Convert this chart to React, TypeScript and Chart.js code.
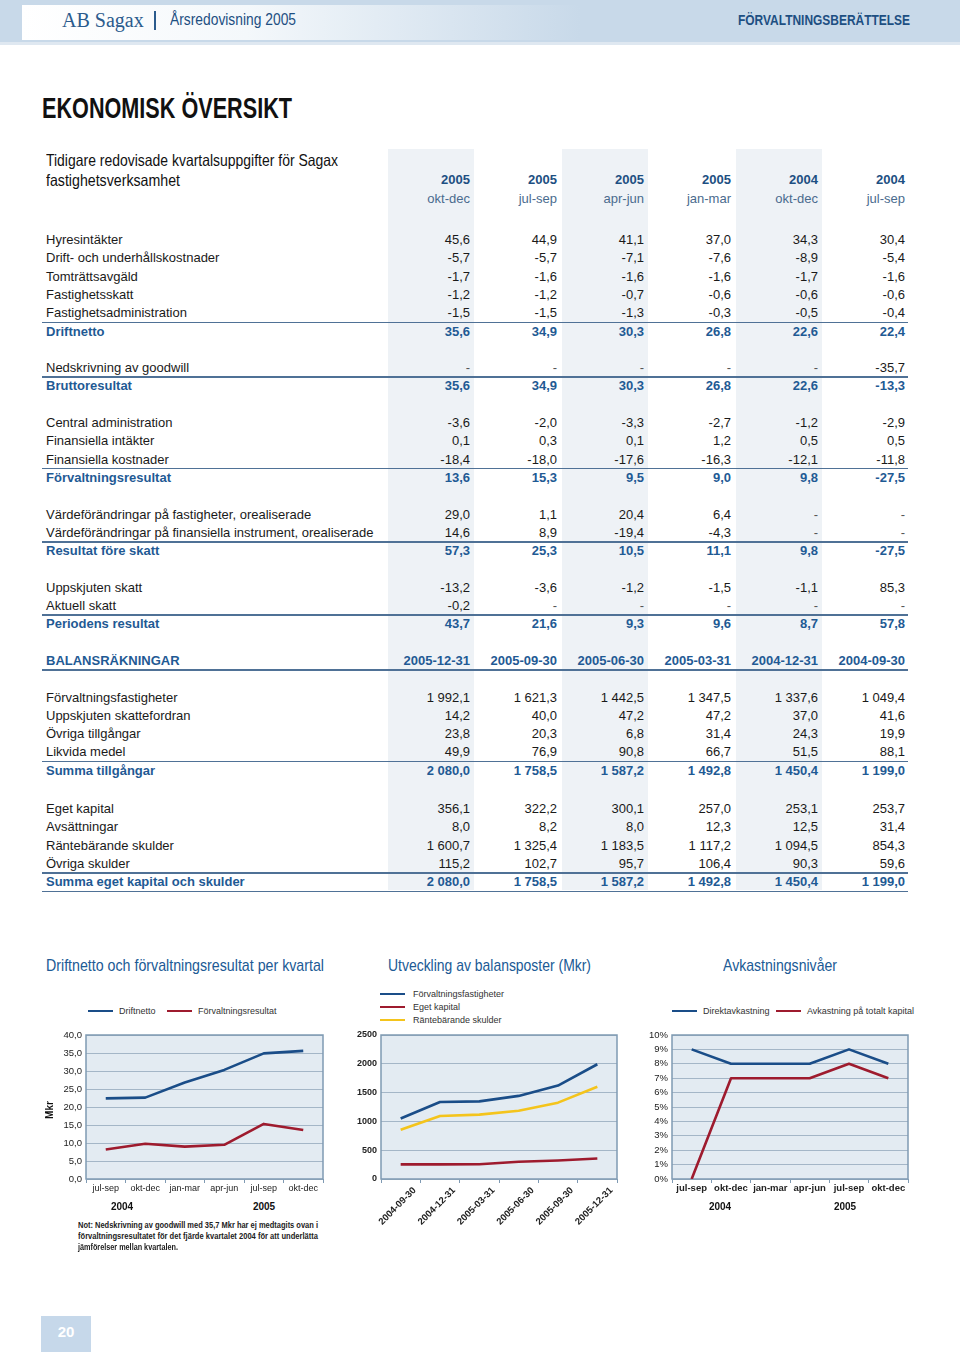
import React, { useEffect, useLayoutEffect, useRef } from "react";
import { Chart, registerables } from "chart.js";
Chart.register(...registerables);

// ---------- Table data ----------
const quarterYears = ["2005", "2005", "2005", "2005", "2004", "2004"];
const quarterNames = ["okt-dec", "jul-sep", "apr-jun", "jan-mar", "okt-dec", "jul-sep"];
const balanceDates = ["2005-12-31", "2005-09-30", "2005-06-30", "2005-03-31", "2004-12-31", "2004-09-30"];

const hyresintakter = ["45,6", "44,9", "41,1", "37,0", "34,3", "30,4"];
const driftUnderhall = ["-5,7", "-5,7", "-7,1", "-7,6", "-8,9", "-5,4"];
const tomtrattsavgald = ["-1,7", "-1,6", "-1,6", "-1,6", "-1,7", "-1,6"];
const fastighetsskatt = ["-1,2", "-1,2", "-0,7", "-0,6", "-0,6", "-0,6"];
const fastighetsadministration = ["-1,5", "-1,5", "-1,3", "-0,3", "-0,5", "-0,4"];
const driftnettoRow = ["35,6", "34,9", "30,3", "26,8", "22,6", "22,4"];
const nedskrivning = ["-", "-", "-", "-", "-", "-35,7"];
const bruttoresultat = ["35,6", "34,9", "30,3", "26,8", "22,6", "-13,3"];
const centralAdmin = ["-3,6", "-2,0", "-3,3", "-2,7", "-1,2", "-2,9"];
const finIntakter = ["0,1", "0,3", "0,1", "1,2", "0,5", "0,5"];
const finKostnader = ["-18,4", "-18,0", "-17,6", "-16,3", "-12,1", "-11,8"];
const forvaltningsresultatRow = ["13,6", "15,3", "9,5", "9,0", "9,8", "-27,5"];
const vardeFastigheter = ["29,0", "1,1", "20,4", "6,4", "-", "-"];
const vardeFinansiella = ["14,6", "8,9", "-19,4", "-4,3", "-", "-"];
const resultatForeSkatt = ["57,3", "25,3", "10,5", "11,1", "9,8", "-27,5"];
const uppskjutenSkatt = ["-13,2", "-3,6", "-1,2", "-1,5", "-1,1", "85,3"];
const aktuellSkatt = ["-0,2", "-", "-", "-", "-", "-"];
const periodensResultat = ["43,7", "21,6", "9,3", "9,6", "8,7", "57,8"];
const forvFastigheter = ["1 992,1", "1 621,3", "1 442,5", "1 347,5", "1 337,6", "1 049,4"];
const uppskjutenFordran = ["14,2", "40,0", "47,2", "47,2", "37,0", "41,6"];
const ovrigaTillgangar = ["23,8", "20,3", "6,8", "31,4", "24,3", "19,9"];
const likvidaMedel = ["49,9", "76,9", "90,8", "66,7", "51,5", "88,1"];
const summaTillgangar = ["2 080,0", "1 758,5", "1 587,2", "1 492,8", "1 450,4", "1 199,0"];
const egetKapitalRow = ["356,1", "322,2", "300,1", "257,0", "253,1", "253,7"];
const avsattningar = ["8,0", "8,2", "8,0", "12,3", "12,5", "31,4"];
const rantebarande = ["1 600,7", "1 325,4", "1 183,5", "1 117,2", "1 094,5", "854,3"];
const ovrigaSkulder = ["115,2", "102,7", "95,7", "106,4", "90,3", "59,6"];
const summaEKSkulder = ["2 080,0", "1 758,5", "1 587,2", "1 492,8", "1 450,4", "1 199,0"];

// ---------- Chart data ----------
const chartQuarters = ["jul-sep", "okt-dec", "jan-mar", "apr-jun", "jul-sep", "okt-dec"];
const driftnetto = [22.4, 22.6, 26.8, 30.3, 34.9, 35.6];
const forvaltningsresultat = [8.2, 9.8, 9.0, 9.5, 15.3, 13.6];

const balanceChartDates = ["2004-09-30", "2004-12-31", "2005-03-31", "2005-06-30", "2005-09-30", "2005-12-31"];
const forvaltningsfastigheter = [1049.4, 1337.6, 1347.5, 1442.5, 1621.3, 1992.1];
const egetKapital = [253.7, 253.1, 257.0, 300.1, 322.2, 356.1];
const rantebarandeSkulder = [854.3, 1094.5, 1117.2, 1183.5, 1325.4, 1600.7];

const direktavkastning = [9, 8, 8, 8, 9, 8];
const avkastningTotalt = [0, 7, 7, 7, 8, 7];

// ---------- Styles ----------
const SANS = '"Liberation Sans", Arial, Helvetica, sans-serif';
const SERIF = '"Liberation Serif", "Times New Roman", serif';
const NAVY = "#1d4f82";
const TITLE_BLUE = "#205a95";
const TOTAL_BLUE = "#1f5a94";
const LINE_BLUE = "#1a4d88";
const LINE_RED = "#9e1b2e";
const LINE_YELLOW = "#f4c41c";
const PLOT_BG = "#e3ebf2";
const GRID = "#a4b6c7";
const FRAME = "#7f9ab3";
const RULE = "#4f7196";

type TProps = { x: number; y: number; lh?: number; align?: "left" | "right" | "center"; style?: React.CSSProperties; children: React.ReactNode };
function T({ x, y, lh = 18, align = "left", style, children }: TProps) {
  return (
    <div
      style={{
        position: "absolute",
        left: x,
        top: y - lh / 2,
        lineHeight: lh + "px",
        height: lh,
        whiteSpace: "nowrap",
        transform: align === "right" ? "translateX(-100%)" : align === "center" ? "translateX(-50%)" : undefined,
        ...style,
      }}
    >
      {children}
    </div>
  );
}

// Condensed text: regular sans scaled horizontally to the width it takes in the print
function FitText({ x, y, w, lh = 20, style, children }: { x: number; y: number; w: number; lh?: number; style?: React.CSSProperties; children: React.ReactNode }) {
  const ref = useRef<HTMLDivElement>(null);
  useLayoutEffect(() => {
    const el = ref.current;
    if (!el) return;
    el.style.transform = "none";
    const nat = el.getBoundingClientRect().width;
    if (nat > 0) el.style.transform = `scaleX(${w / nat})`;
  }, []);
  return (
    <div
      ref={ref}
      style={{ position: "absolute", left: x, top: y - lh / 2, lineHeight: lh + "px", height: lh, whiteSpace: "nowrap", transformOrigin: "0 50%", ...style }}
    >
      {children}
    </div>
  );
}

const plotFrame = {
  id: "plotFrame",
  beforeDraw(chart: any) {
    const { ctx, chartArea: a } = chart;
    ctx.save();
    ctx.fillStyle = PLOT_BG;
    ctx.fillRect(a.left, a.top, a.right - a.left, a.bottom - a.top);
    ctx.restore();
  },
  beforeDatasetsDraw(chart: any) {
    const { ctx, chartArea: a } = chart;
    ctx.save();
    ctx.strokeStyle = FRAME;
    ctx.lineWidth = 1.5;
    ctx.strokeRect(a.left, a.top, a.right - a.left, a.bottom - a.top);
    ctx.restore();
  },
};

type DS = { label: string; data: number[]; color: string };
type LCProps = {
  left: number; top: number; width: number; height: number;
  padTop: number; padRight: number; yWidth: number; xHeight: number;
  labels: string[]; datasets: DS[];
  yMin: number; yMax: number; yStep: number; yFmt: (v: number) => string;
  yFont: any; xFont: any; xRot: number; xLabelOffset?: number; xPad?: number;
};

function LineChart(p: LCProps) {
  const ref = useRef<HTMLCanvasElement>(null);
  useEffect(() => {
    const chart = new Chart(ref.current as HTMLCanvasElement, {
      type: "line",
      data: {
        labels: p.labels,
        datasets: p.datasets.map((d) => ({
          label: d.label,
          data: d.data,
          borderColor: d.color,
          backgroundColor: d.color,
          borderWidth: 2.6,
          pointRadius: 0,
          tension: 0,
          fill: false,
          borderJoinStyle: "round" as const,
        })),
      },
      options: {
        animation: false,
        responsive: false,
        maintainAspectRatio: false,
        devicePixelRatio: 1,
        layout: { padding: { top: p.padTop, right: p.padRight, left: 0, bottom: 0 } },
        plugins: { legend: { display: false }, tooltip: { enabled: false } },
        scales: {
          x: {
            type: "category",
            offset: true,
            grid: { display: true, drawOnChartArea: false, drawTicks: true, tickLength: 4, color: FRAME, offset: true },
            border: { display: false },
            ticks: {
              color: "#222",
              font: p.xFont,
              padding: p.xPad ?? 0,
              maxRotation: p.xRot,
              minRotation: p.xRot,
              autoSkip: false,
              labelOffset: p.xLabelOffset ?? 0,
            },
            afterFit: (s: any) => { s.height = p.xHeight; },
          },
          y: {
            min: p.yMin,
            max: p.yMax,
            grid: { color: GRID, drawTicks: false, lineWidth: 1 },
            border: { display: false },
            ticks: { stepSize: p.yStep, color: "#222", font: p.yFont, padding: 4, callback: (v: any) => p.yFmt(Number(v)) },
            afterFit: (s: any) => { s.width = p.yWidth; },
          },
        },
      } as any,
      plugins: [plotFrame],
    });
    return () => chart.destroy();
  }, []);
  return (
    <canvas
      ref={ref}
      width={p.width}
      height={p.height}
      style={{ position: "absolute", left: p.left, top: p.top, width: p.width, height: p.height }}
    />
  );
}

function Legend({ items, x, y, dx, vertical, textGap = 6 }: { items: DS[]; x: number; y: number; dx?: number[]; vertical?: boolean; textGap?: number }) {
  return (
    <>
      {items.map((it, i) => {
        const lx = vertical ? x : x + (dx ? dx[i] : 0);
        const ly = vertical ? y + i * 13 : y;
        return (
          <React.Fragment key={i}>
            <div style={{ position: "absolute", left: lx, top: ly - 1.25, width: 25, height: 2.5, background: it.color }} />
            <T x={lx + 25 + textGap} y={ly} lh={12} style={{ fontFamily: SANS, fontSize: 9, color: "#333" }}>{it.label}</T>
          </React.Fragment>
        );
      })}
    </>
  );
}

type Row = { label?: string; values?: string[]; kind: "n" | "t" | "b" | "h" };
const rows: Row[] = [
  { label: "Hyresintäkter", values: hyresintakter, kind: "n" },
  { label: "Drift- och underhållskostnader", values: driftUnderhall, kind: "n" },
  { label: "Tomträttsavgäld", values: tomtrattsavgald, kind: "n" },
  { label: "Fastighetsskatt", values: fastighetsskatt, kind: "n" },
  { label: "Fastighetsadministration", values: fastighetsadministration, kind: "n" },
  { label: "Driftnetto", values: driftnettoRow, kind: "t" },
  { kind: "b" },
  { label: "Nedskrivning av goodwill", values: nedskrivning, kind: "n" },
  { label: "Bruttoresultat", values: bruttoresultat, kind: "t" },
  { kind: "b" },
  { label: "Central administration", values: centralAdmin, kind: "n" },
  { label: "Finansiella intäkter", values: finIntakter, kind: "n" },
  { label: "Finansiella kostnader", values: finKostnader, kind: "n" },
  { label: "Förvaltningsresultat", values: forvaltningsresultatRow, kind: "t" },
  { kind: "b" },
  { label: "Värdeförändringar på fastigheter, orealiserade", values: vardeFastigheter, kind: "n" },
  { label: "Värdeförändringar på finansiella instrument, orealiserade", values: vardeFinansiella, kind: "n" },
  { label: "Resultat före skatt", values: resultatForeSkatt, kind: "t" },
  { kind: "b" },
  { label: "Uppskjuten skatt", values: uppskjutenSkatt, kind: "n" },
  { label: "Aktuell skatt", values: aktuellSkatt, kind: "n" },
  { label: "Periodens resultat", values: periodensResultat, kind: "t" },
  { kind: "b" },
  { label: "BALANSRÄKNINGAR", values: balanceDates, kind: "h" },
  { kind: "b" },
  { label: "Förvaltningsfastigheter", values: forvFastigheter, kind: "n" },
  { label: "Uppskjuten skattefordran", values: uppskjutenFordran, kind: "n" },
  { label: "Övriga tillgångar", values: ovrigaTillgangar, kind: "n" },
  { label: "Likvida medel", values: likvidaMedel, kind: "n" },
  { label: "Summa tillgångar", values: summaTillgangar, kind: "t" },
  { kind: "b" },
  { label: "Eget kapital", values: egetKapitalRow, kind: "n" },
  { label: "Avsättningar", values: avsattningar, kind: "n" },
  { label: "Räntebärande skulder", values: rantebarande, kind: "n" },
  { label: "Övriga skulder", values: ovrigaSkulder, kind: "n" },
  { label: "Summa eget kapital och skulder", values: summaEKSkulder, kind: "t" },
];

const COL_RIGHT = [470, 557, 644, 731, 818, 905];

function Table() {
  const els: React.ReactNode[] = [];
  [0, 2, 4].forEach((c) => {
    els.push(<div key={"sh" + c} style={{ position: "absolute", left: 388 + c * 87, top: 149, width: 86, height: 741, background: "#eef2f6" }} />);
  });
  quarterYears.forEach((yr, i) => {
    els.push(<T key={"yr" + i} x={COL_RIGHT[i]} y={180} align="right" style={{ fontFamily: SANS, fontSize: 13, fontWeight: 700, color: NAVY }}>{yr}</T>);
    els.push(<T key={"qn" + i} x={COL_RIGHT[i]} y={198.5} align="right" style={{ fontFamily: SANS, fontSize: 13, color: "#4a6b8e" }}>{quarterNames[i]}</T>);
  });
  rows.forEach((r, i) => {
    if (r.kind === "b") return;
    const cy = 240 + i * 18.3 + (i >= 31 ? 1.7 : 0);
    const bold = r.kind === "t" || r.kind === "h";
    const color = bold ? TOTAL_BLUE : "#1a1a1a";
    if (r.kind === "t") {
      els.push(<div key={"lt" + i} style={{ position: "absolute", left: 42, top: cy - 10, width: 866, height: 1.6, background: RULE }} />);
    }
    if (r.kind === "h" || i === rows.length - 1) {
      els.push(<div key={"lb" + i} style={{ position: "absolute", left: 42, top: cy + 8.5, width: 866, height: 1.6, background: RULE }} />);
    }
    els.push(<T key={"lab" + i} x={46} y={cy} style={{ fontFamily: SANS, fontSize: 13, fontWeight: bold ? 700 : 400, color }}>{r.label}</T>);
    (r.values || []).forEach((v, j) => {
      els.push(
        <T key={"v" + i + "_" + j} x={COL_RIGHT[j]} y={cy} align="right" style={{ fontFamily: SANS, fontSize: 13, fontWeight: bold ? 700 : 400, color: v === "-" && !bold ? "#555" : color }}>{v}</T>
      );
    });
  });
  return <>{els}</>;
}

const fmt1 = (v: number) => v.toFixed(1).replace(".", ",");
const fmtInt = (v: number) => String(Math.round(v));
const fmtPct = (v: number) => Math.round(v) + "%";

export default function App() {
  const c1: DS[] = [
    { label: "Driftnetto", data: driftnetto, color: LINE_BLUE },
    { label: "Förvaltningsresultat", data: forvaltningsresultat, color: LINE_RED },
  ];
  const c2: DS[] = [
    { label: "Förvaltningsfastigheter", data: forvaltningsfastigheter, color: LINE_BLUE },
    { label: "Eget kapital", data: egetKapital, color: LINE_RED },
    { label: "Räntebärande skulder", data: rantebarandeSkulder, color: LINE_YELLOW },
  ];
  const c3: DS[] = [
    { label: "Direktavkastning", data: direktavkastning, color: LINE_BLUE },
    { label: "Avkastning på totalt kapital", data: avkastningTotalt, color: LINE_RED },
  ];
  const titleStyle: React.CSSProperties = { fontFamily: SANS, fontSize: 17, color: TITLE_BLUE };
  const noteStyle: React.CSSProperties = { fontFamily: SANS, fontSize: 8.8, fontWeight: 700, color: "#222" };
  const yearStyle: React.CSSProperties = { fontFamily: SANS, fontSize: 10, fontWeight: 700, color: "#111" };
  return (
    <div style={{ position: "absolute", left: 0, top: 0, width: 960, height: 1352, overflow: "hidden", background: "#fff", fontFamily: SANS }}>
      {/* header band */}
      <div style={{ position: "absolute", left: 0, top: 0, width: 960, height: 42, background: "#c8d9e9" }} />
      <div style={{ position: "absolute", left: 0, top: 42, width: 960, height: 3, background: "#dfe8f1" }} />
      <div style={{ position: "absolute", left: 22, top: 5, width: 900, height: 35, background: "linear-gradient(to right, #ffffff 0%, #f4f8fb 25%, #c8d9e9 62%)" }} />
      <T x={62} y={20} lh={24} style={{ fontFamily: SERIF, fontSize: 20, color: "#2b5b8d" }}>AB Sagax</T>
      <div style={{ position: "absolute", left: 154, top: 11, width: 2, height: 19, background: "#2b5b8d" }} />
      <FitText x={170} y={20} w={126} lh={22} style={{ fontFamily: SANS, fontSize: 17, color: NAVY }}>Årsredovisning 2005</FitText>
      <FitText x={738} y={20} w={172} lh={22} style={{ fontFamily: SANS, fontSize: 15.5, fontWeight: 700, color: NAVY }}>FÖRVALTNINGSBERÄTTELSE</FitText>

      {/* title */}
      <FitText x={42} y={108} w={250} lh={34} style={{ fontFamily: SANS, fontSize: 30, fontWeight: 700, color: "#111" }}>EKONOMISK ÖVERSIKT</FitText>

      <Table />
      <FitText x={46} y={160} w={292} lh={20} style={{ fontFamily: SANS, fontSize: 16.5, color: "#111" }}>Tidigare redovisade kvartalsuppgifter för Sagax</FitText>
      <FitText x={46} y={180} w={134} lh={20} style={{ fontFamily: SANS, fontSize: 16.5, color: "#111" }}>fastighetsverksamhet</FitText>

      {/* chart titles */}
      <FitText x={46} y={966} w={278} lh={20} style={titleStyle}>Driftnetto och förvaltningsresultat per kvartal</FitText>
      <FitText x={388} y={966} w={203} lh={20} style={titleStyle}>Utveckling av balansposter (Mkr)</FitText>
      <FitText x={723} y={966} w={114} lh={20} style={titleStyle}>Avkastningsnivåer</FitText>

      {/* chart 1 */}
      <Legend items={c1} x={88} y={1011} dx={[0, 79]} />
      <LineChart
        left={40} top={1025} width={290} height={175}
        padTop={10} padRight={7} yWidth={46} xHeight={21}
        labels={chartQuarters} datasets={c1}
        yMin={0} yMax={40} yStep={5} yFmt={fmt1}
        yFont={{ family: SANS, size: 9.5 }} xFont={{ family: SANS, size: 9 }} xRot={0}
      />
      <T x={50} y={1110} lh={12} align="center" style={{ fontFamily: SANS, fontSize: 10, fontWeight: 700, color: "#111", transform: "translateX(-50%) rotate(-90deg)" }}>Mkr</T>
      <T x={122} y={1207} lh={12} align="center" style={yearStyle}>2004</T>
      <T x={264} y={1207} lh={12} align="center" style={yearStyle}>2005</T>
      <FitText x={78} y={1225} w={240} lh={11} style={noteStyle}>Not: Nedskrivning av goodwill med 35,7 Mkr har ej medtagits ovan i</FitText>
      <FitText x={78} y={1236} w={240} lh={11} style={noteStyle}>förvaltningsresultatet för det fjärde kvartalet 2004 för att underlätta</FitText>
      <FitText x={78} y={1247} w={100} lh={11} style={noteStyle}>jämförelser mellan kvartalen.</FitText>

      {/* chart 2 */}
      <Legend items={c2} x={380} y={994} vertical textGap={8} />
      <LineChart
        left={340} top={1025} width={285} height={205}
        padTop={10} padRight={8} yWidth={41} xHeight={51}
        labels={balanceChartDates} datasets={c2}
        yMin={0} yMax={2500} yStep={500} yFmt={fmtInt}
        yFont={{ family: SANS, size: 9, weight: "bold" }} xFont={{ family: SANS, size: 9.5, weight: "bold" }} xRot={45} xLabelOffset={14} xPad={2}
      />

      {/* chart 3 */}
      <Legend items={c3} x={672} y={1011} dx={[0, 104]} />
      <LineChart
        left={630} top={1025} width={285} height={180}
        padTop={10} padRight={7} yWidth={42} xHeight={26}
        labels={chartQuarters} datasets={c3}
        yMin={0} yMax={10} yStep={1} yFmt={fmtPct}
        yFont={{ family: SANS, size: 9.5 }} xFont={{ family: SANS, size: 9.5, weight: "bold" }} xRot={0}
      />
      <T x={720} y={1207} lh={12} align="center" style={yearStyle}>2004</T>
      <T x={845} y={1207} lh={12} align="center" style={yearStyle}>2005</T>

      {/* page number */}
      <div style={{ position: "absolute", left: 41, top: 1316, width: 50, height: 36, background: "#c6d8ea" }} />
      <T x={66} y={1332} lh={18} align="center" style={{ fontFamily: SANS, fontSize: 15, fontWeight: 700, color: "#fff" }}>20</T>
    </div>
  );
}
